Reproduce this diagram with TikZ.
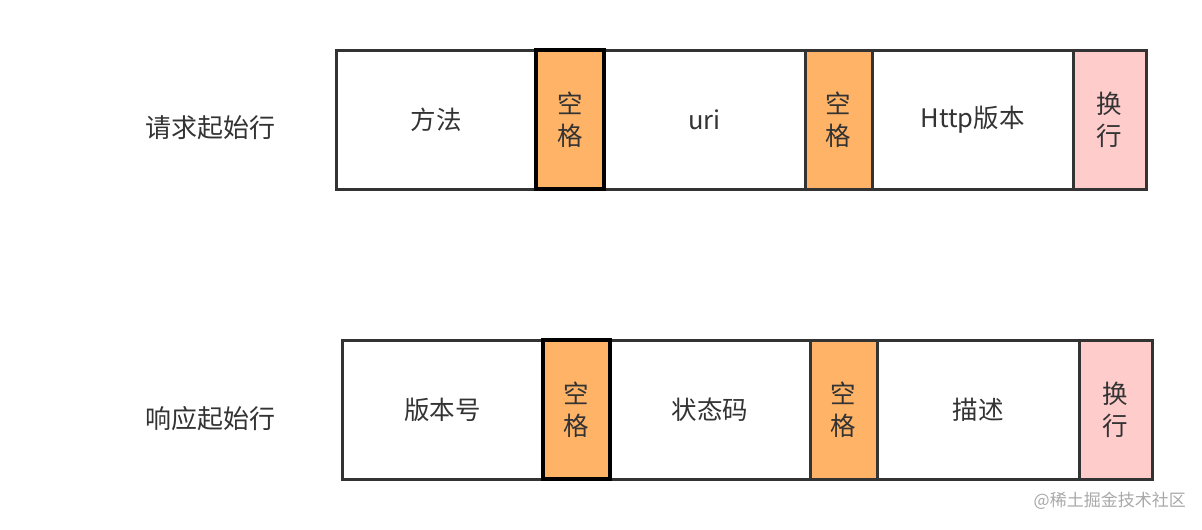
\documentclass[tikz,border=0pt]{standalone}
\usepackage{fontspec}
\setmainfont{Noto Sans CJK SC}
\definecolor{edge}{HTML}{333333}
\definecolor{spc}{HTML}{FFB366}
\definecolor{nl}{HTML}{FFCCCC}
\definecolor{txt}{HTML}{333333}
\definecolor{wm}{HTML}{A8A8A8}
\tikzset{
  cell/.style={draw=edge, line width=3pt, fill=white, inner sep=0pt, minimum height=139pt, text=txt, font=\fontsize{25.5}{32}\selectfont, align=center},
  spacecell/.style={cell, fill=spc},
  boldspacecell/.style={spacecell, draw=black, line width=4pt},
  nlcell/.style={cell, fill=nl},
  rowlabel/.style={text=txt, font=\fontsize{26}{30}\selectfont, inner sep=0pt},
  watermark/.style={text=wm, font=\fontsize{17}{20}\selectfont, inner sep=0pt}
}
\begin{document}
\begin{tikzpicture}[x=1pt, y=-1pt]
\useasboundingbox (0,0) rectangle (1202,530);
% request line
\node[rowlabel] (reqlabel) at (210,128) {请求起始行};
\node[cell, minimum width=200pt] (method) at (436,119.5) {方法};
\node[cell, minimum width=201pt] (uri) at (704.5,119.5) {uri};
\node[cell, minimum width=201pt] (ver) at (972.5,119.5) {Http版本};
\node[spacecell, minimum width=67pt] (sp2) at (838.5,119.5) {空\\格};
\node[nlcell, minimum width=73pt] (nl1) at (1109.5,119.5) {换\\行};
\node[boldspacecell, minimum width=68pt] (sp1) at (570,119.5) {空\\格};
% response line
\node[rowlabel] (reslabel) at (210,419) {响应起始行};
\node[cell, minimum width=201pt] (rver) at (442.5,409.5) {版本号};
\node[cell, minimum width=200pt] (code) at (710,409.5) {状态码};
\node[cell, minimum width=202pt] (desc) at (978,409.5) {描述};
\node[spacecell, minimum width=67pt] (sp4) at (843.5,409.5) {空\\格};
\node[nlcell, minimum width=73pt] (nl2) at (1115.5,409.5) {换\\行};
\node[boldspacecell, minimum width=67pt] (sp3) at (576.5,409.5) {空\\格};
% watermark
\node[watermark, anchor=east] (wmark) at (1186,501) {@稀土掘金技术社区};
\end{tikzpicture}
\end{document}
